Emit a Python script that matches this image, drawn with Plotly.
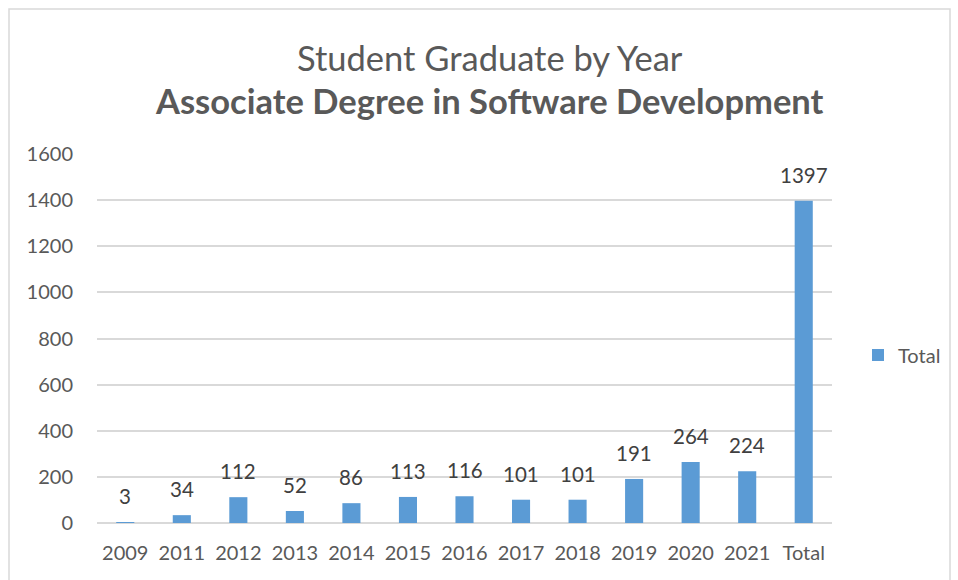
import plotly.graph_objects as go

categories = ["2009", "2011", "2012", "2013", "2014", "2015", "2016", "2017", "2018", "2019", "2020", "2021", "Total"]
values = [3, 34, 112, 52, 86, 113, 116, 101, 101, 191, 264, 224, 1397]
y_ticks = [0, 200, 400, 600, 800, 1000, 1200, 1400, 1600]

FONT = "Lato"
W, H = 958, 580
L, R, T, B = 97, 126, 154, 57
pw = W - L - R
ph = H - T - B

def px_x(p):
    return (p - L) / pw

def px_y(p):
    return (H - B - p) / ph

fig = go.Figure()
fig.add_trace(go.Bar(
    x=categories, y=values, name="Total",
    marker=dict(color="#5B9BD5", line=dict(width=0)),
    showlegend=True,
))

annotations = []
for i, v in enumerate(values):
    annotations.append(dict(
        x=i, y=v, xref="x", yref="y", text=str(v), showarrow=False,
        yanchor="bottom", yshift=12,
        font=dict(family=FONT, size=20.5, color="#404040"),
    ))
annotations.append(dict(
    x=px_x(490), y=px_y(57), xref="paper", yref="paper",
    text="Student Graduate by Year", showarrow=False,
    xanchor="center", yanchor="middle",
    font=dict(family=FONT, size=34.5, color="#595959"),
))
annotations.append(dict(
    x=px_x(489), y=px_y(100), xref="paper", yref="paper",
    text="<b>Associate Degree in Software Development</b>", showarrow=False,
    xanchor="center", yanchor="middle",
    font=dict(family=FONT, size=34.5, color="#595959"),
))

fig.update_layout(
    width=W, height=H,
    margin=dict(l=L, r=R, t=T, b=B, pad=0, autoexpand=False),
    paper_bgcolor="white", plot_bgcolor="white",
    font=dict(family=FONT, color="#595959", size=20),
    bargap=0.68,
    annotations=annotations,
    legend=dict(
        x=px_x(858), y=px_y(355), xanchor="left", yanchor="middle",
        font=dict(family=FONT, size=20, color="#595959"),
        itemwidth=30, bgcolor="rgba(0,0,0,0)",
    ),
    shapes=[dict(
        type="rect", xref="paper", yref="paper",
        x0=px_x(9), x1=px_x(950), y0=px_y(600), y1=px_y(9),
        line=dict(color="#D9D9D9", width=1.5), fillcolor="rgba(0,0,0,0)",
        layer="below",
    )],
)
fig.update_xaxes(
    type="category", range=[-0.5, len(categories) - 0.5],
    showgrid=False, showline=False, ticks="",
    tickfont=dict(family=FONT, size=20, color="#595959"), ticklabelstandoff=16,
)
fig.update_yaxes(
    range=[0, 1600], tickvals=y_ticks, showgrid=True, gridcolor="#D9D9D9", gridwidth=1.5,
    zeroline=True, zerolinecolor="#D9D9D9", zerolinewidth=1.5, showline=False, ticks="",
    tickfont=dict(family=FONT, size=20, color="#595959"), ticklabelstandoff=23,
)

fig.write_html(
    "out.html",
    config={"displayModeBar": False},
    post_script="document.body.style.margin='0';document.body.style.overflow='hidden';",
)
